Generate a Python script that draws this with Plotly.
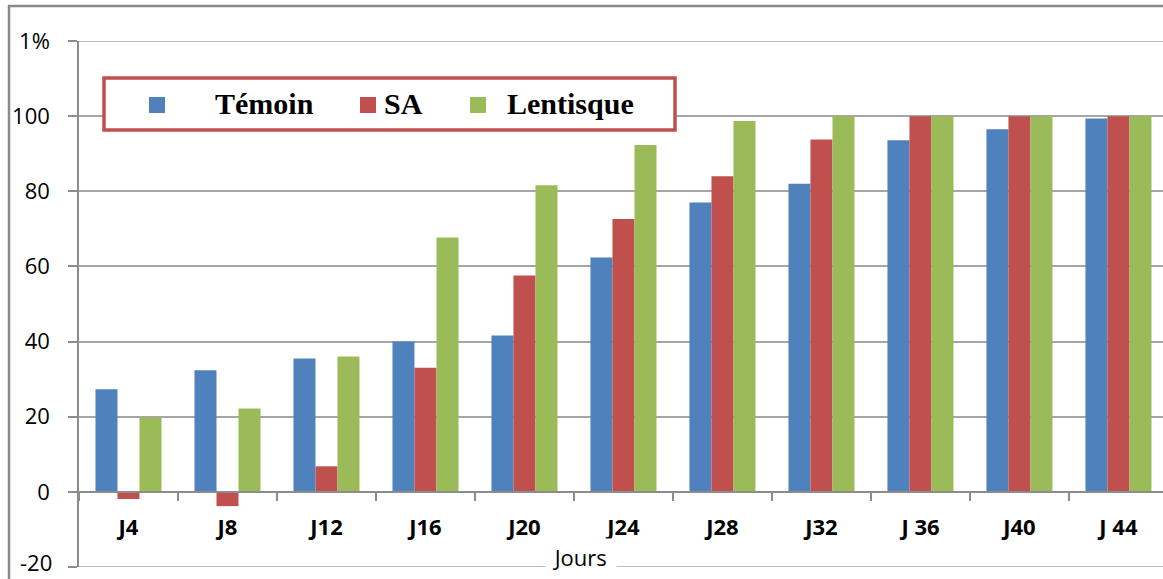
import plotly.graph_objects as go

# Sampling days and measured percentages per treatment
jours = ["J4", "J8", "J12", "J16", "J20", "J24", "J28", "J32", "J 36", "J40", "J 44"]
temoin = [27.3, 32.4, 35.5, 40.0, 41.6, 62.4, 77.0, 82.0, 93.6, 96.5, 99.4]
sa = [-1.9, -3.8, 6.8, 33.0, 57.6, 72.6, 84.0, 93.8, 100.0, 100.0, 100.0]
lentisque = [19.8, 22.2, 36.0, 67.7, 81.6, 92.3, 98.7, 100.0, 100.0, 100.0, 100.0]

series_names = ["Témoin", "SA", "Lentisque"]
colors = ["#4f81bd", "#c0504d", "#9bbb59"]

y_ticks = [-20, 0, 20, 40, 60, 80, 100, 120]
y_ticktext = ["", "0", "20", "40", "60", "80", "100", "1%"]
y_bottom_label = "-20"

W, H = 1163, 579
L, R, T, B = 79, 0, 41, 12
PW, PH = W - L - R, H - T - B


def px(x):
    return (x - L) / PW


def py(y):
    return (H - B - y) / PH


GRID = "#a6a6a6"
AXIS = "#8c8c8c"

fig = go.Figure()
for name, vals, col in zip(series_names, [temoin, sa, lentisque], colors):
    fig.add_trace(go.Bar(x=jours, y=vals, name=name, marker=dict(color=col, line=dict(width=0)),
                         showlegend=False))

fig.update_layout(
    width=W, height=H,
    margin=dict(l=L, r=R, t=T, b=B),
    paper_bgcolor="white", plot_bgcolor="white",
    barmode="group", bargap=0.333, bargroupgap=0,
    font=dict(family="Open Sans, sans-serif", color="black"),
    xaxis=dict(
        type="category", range=[-0.5, 10.45],
        anchor="free", position=20 / 140,
        showline=True, linecolor=AXIS, linewidth=1.5,
        ticks="outside", tickson="boundaries", ticklen=8, tickcolor=AXIS, tickwidth=1.5,
        showgrid=False,
        tickfont=dict(size=22, family="Open Sans, sans-serif", color="black", weight="bold"),
        ticklabelstandoff=16,
    ),
    yaxis=dict(
        range=[-20, 120], tickvals=y_ticks, ticktext=y_ticktext,
        showline=True, linecolor=AXIS, linewidth=1.5,
        ticks="outside", ticklen=9, tickcolor=AXIS, tickwidth=1.5,
        showgrid=True, gridcolor=GRID, gridwidth=1.5,
        zeroline=False,
        tickfont=dict(size=22, color="black"),
        ticklabelstandoff=14,
    ),
)

shapes = []
annotations = []

# gridlines at the top and bottom edges of the value range
for yv in (y_ticks[0], y_ticks[-1]):
    shapes.append(dict(type="line", xref="paper", yref="y", x0=0, x1=1, y0=yv, y1=yv,
                       line=dict(color=GRID, width=1.5), layer="above"))

# label for the lowest tick, kept inside the bottom edge of the figure
annotations.append(dict(xref="paper", yref="paper", x=px(53), y=py(578),
                        xanchor="right", yanchor="bottom", showarrow=False, borderpad=0,
                        text=y_bottom_label, font=dict(size=22, color="black")))

# outer chart frame
shapes.append(dict(type="rect", xref="paper", yref="paper",
                   x0=px(9), x1=px(1300), y0=py(700), y1=py(6),
                   line=dict(color="#8a8a8a", width=2.5), fillcolor="rgba(0,0,0,0)", layer="above"))

# legend box
shapes.append(dict(type="rect", xref="paper", yref="paper",
                   x0=px(104), x1=px(675), y0=py(130), y1=py(78),
                   line=dict(color="#c0504d", width=3.5), fillcolor="white", layer="above"))

legend_items = [
    (series_names[0], colors[0], 149, 213),
    (series_names[1], colors[1], 360, 382),
    (series_names[2], colors[2], 470, 505),
]
for name, col, sx, tx in legend_items:
    shapes.append(dict(type="rect", xref="paper", yref="paper",
                       x0=px(sx), x1=px(sx + 16), y0=py(113), y1=py(97),
                       line=dict(width=0), fillcolor=col, layer="above"))
    annotations.append(dict(xref="paper", yref="paper", x=px(tx), y=py(104),
                            xanchor="left", yanchor="middle", showarrow=False,
                            text="<b>%s</b>" % name,
                            font=dict(family="Liberation Serif, Times New Roman, serif", size=30, color="black")))

# axis title with white backing over the bottom gridline
annotations.append(dict(xref="paper", yref="paper", x=px(581), y=py(557),
                        xanchor="center", yanchor="middle", showarrow=False,
                        text="&nbsp;Jours&nbsp;", bgcolor="white", borderpad=3,
                        font=dict(size=22, color="black")))

fig.update_layout(shapes=shapes, annotations=annotations)

fig.write_html("out.html")
